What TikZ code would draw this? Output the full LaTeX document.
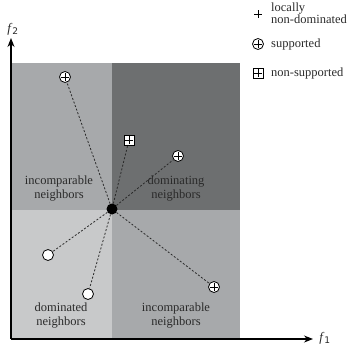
\documentclass[tikz,border=0pt]{standalone}
\usepackage{fontspec}
\setmainfont{Liberation Serif}
\newfontfamily\axfont{DejaVu Sans}
\usetikzlibrary{arrows.meta}
\definecolor{lightg}{HTML}{C8C9CA}
\definecolor{midg}{HTML}{A7A9AB}
\definecolor{darkg}{HTML}{6D6F70}
\definecolor{txt}{HTML}{2A2A2A}
\tikzset{
  plusmark/.style={path picture={
    \draw[line width=0.7pt] ([xshift=-3.6pt]path picture bounding box.center) -- ([xshift=3.6pt]path picture bounding box.center);
    \draw[line width=0.7pt] ([yshift=-3.6pt]path picture bounding box.center) -- ([yshift=3.6pt]path picture bounding box.center);}},
  supp/.style={circle, draw=black, fill=white, line width=0.8pt, minimum size=11pt, inner sep=0pt, plusmark},
  nsupp/.style={rectangle, draw=black, fill=white, line width=0.8pt, minimum size=10pt, inner sep=0pt, plusmark},
  opencirc/.style={circle, draw=black, fill=white, line width=0.8pt, minimum size=11pt, inner sep=0pt},
  soldot/.style={circle, fill=black, minimum size=11pt, inner sep=0pt},
  lbl/.style={align=center, font=\fontsize{12.5}{14}\selectfont, text=txt, inner sep=0pt},
  leg/.style={align=left, anchor=west, font=\fontsize{12.5}{11}\selectfont, text=txt, inner sep=0pt},
  axlbl/.style={font=\fontsize{13}{14}\selectfont, text=txt, inner sep=0pt},
  link/.style={draw=txt, line width=0.8pt, dash pattern=on 2pt off 1.8pt},
  axis/.style={line width=1.2pt, -{Stealth[length=9pt,width=7pt]}}
}
\begin{document}
\begin{tikzpicture}[x=1pt,y=-1pt]
\useasboundingbox (0,0) rectangle (350,346);
% regions
\fill[midg] (11,63) rectangle (112,210);
\fill[darkg] (112,63) rectangle (240,210);
\fill[lightg] (11,210) rectangle (112,339);
\fill[midg] (112,210) rectangle (240,339);
% axes
\coordinate (o) at (11,339);
\coordinate (xe) at (313,339);
\coordinate (ye) at (11,38);
\draw[axis] (o) -- (xe);
\draw[axis] (o) -- (ye);
\node[axlbl] (f1) at (325,338) {\textit{f}\textsubscript{\axfont 1}};
\node[axlbl] (f2) at (13,29) {\textit{f}\textsubscript{\axfont 2}};
% labels
\node[lbl] (l1) at (59,189) {incomparable\\neighbors};
\node[lbl] (l2) at (176,189) {dominating\\neighbors};
\node[lbl] (l3) at (61,316) {dominated\\neighbors};
\node[lbl] (l4) at (176,316) {incomparable\\neighbors};
% points
\node[soldot] (c) at (112,209) {};
\node[supp] (p1) at (65,77) {};
\node[nsupp] (p2) at (129,140) {};
\node[supp] (p3) at (178,156) {};
\node[opencirc] (p4) at (48,255) {};
\node[opencirc] (p5) at (88,294) {};
\node[supp] (p6) at (214,287) {};
\foreach \p in {p1,p2,p3,p4,p5,p6} \draw[link] (c) -- (\p);
% legend
\node[minimum size=10pt, inner sep=0pt, plusmark] (m1) at (258,14) {};
\node[leg] (t1) at (271,13) {locally\\non-dominated};
\node[supp] (m2) at (258,44) {};
\node[leg] (t2) at (271,44) {supported};
\node[nsupp] (m3) at (258,73) {};
\node[leg] (t3) at (271,73) {non-supported};
\end{tikzpicture}
\end{document}
